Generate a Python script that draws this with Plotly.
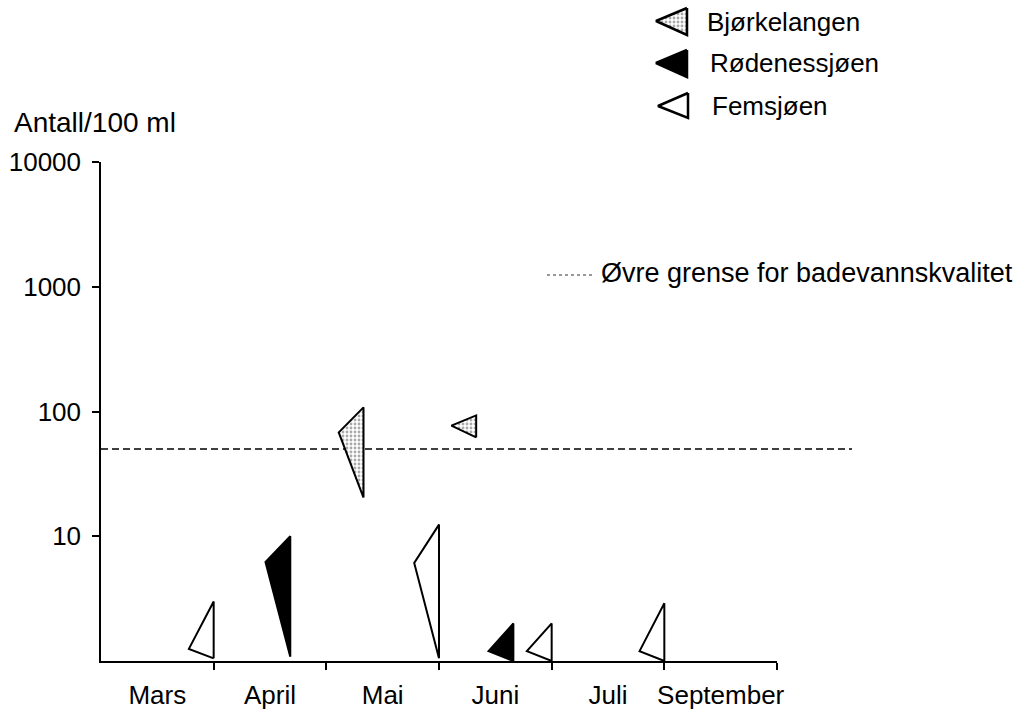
import plotly.graph_objects as go

# ---------------- data ----------------
months = ["Mars", "April", "Mai", "Juni", "Juli", "September"]
month_ticks = [1, 2, 3, 4, 5, 6]              # month boundaries (tick marks)
label_pos = [0.5, 1.5, 2.5, 3.5, 4.5, 5.5]    # month label centres
ytick_vals = [10, 100, 1000, 10000]
ytick_text = ["10", "100", "1000", "10000"]

# Each triangle: vertical edge at x (month units), spanning min..max, tip at mid value
fems_x = [1.0, 3.0, 4.0, 5.0]
fems_min = [1.05, 1.05, 1.0, 1.0]
fems_mid = [1.25, 6.1, 1.2, 1.2]
fems_max = [3.0, 12.4, 2.0, 2.9]

rod_x = [1.68, 3.66]
rod_min = [1.08, 1.0]
rod_mid = [6.2, 1.2]
rod_max = [10.0, 2.0]

bjo_x = [2.33, 3.33]
bjo_min = [20.4, 62.0]
bjo_mid = [68.0, 77.0]
bjo_max = [108.0, 93.0]

threshold = 50
threshold_label = "Øvre grense for badevannskvalitet"
lakes = ["Bjørkelangen", "Rødenessjøen", "Femsjøen"]

# ---------------- layout geometry ----------------
W, H = 1026, 715
L, R_AX, R_DASH, T, B = 101, 777, 852, 162, 661
TIP_W = 0.22  # horizontal depth of triangle tip (month units)
X_END = 6 * (R_DASH - L) / (R_AX - L)
FONT = "Liberation Sans, Arial, sans-serif"
FS = 26


def tri_path(xs, mins, mids, maxs):
    px, py = [], []
    for x, a, m, b in zip(xs, mins, mids, maxs):
        px += [x, x, x - TIP_W, x, None]
        py += [a, b, m, a, None]
    return px, py


fig = go.Figure()

# threshold dashed line
fig.add_trace(go.Scatter(x=[0, X_END], y=[threshold, threshold], mode="lines",
                         line=dict(color="black", width=1.4, dash="7px,4px"),
                         xaxis="x", yaxis="y", hoverinfo="skip", showlegend=False))

stipple = dict(shape=".", size=4, solidity=0.4, fgcolor="#555", bgcolor="white")

px, py = tri_path(bjo_x, bjo_min, bjo_mid, bjo_max)
fig.add_trace(go.Scatter(x=px, y=py, mode="lines", fill="toself", fillcolor="white",
                         fillpattern=stipple, line=dict(color="black", width=2),
                         name=lakes[0], showlegend=False, xaxis="x", yaxis="y"))
px, py = tri_path(rod_x, rod_min, rod_mid, rod_max)
fig.add_trace(go.Scatter(x=px, y=py, mode="lines", fill="toself", fillcolor="black",
                         line=dict(color="black", width=2),
                         name=lakes[1], showlegend=False, xaxis="x", yaxis="y"))
px, py = tri_path(fems_x, fems_min, fems_mid, fems_max)
fig.add_trace(go.Scatter(x=px, y=py, mode="lines", fill="toself", fillcolor="white",
                         line=dict(color="black", width=2),
                         name=lakes[2], showlegend=False, xaxis="x", yaxis="y"))

# empty trace so the display x-axis (x2) is drawn
fig.add_trace(go.Scatter(x=[None], y=[None], xaxis="x2", yaxis="y", showlegend=False,
                         hoverinfo="skip"))

# ---------------- manual legend (pixel-coordinate overlay axis) ----------------
leg_tris = [((656, 21), 687, 8, 35), ((656, 63), 687, 50, 77), ((658, 106), 688, 93, 118)]
leg_fill = ["white", "black", "white"]
leg_text_x = [705, 708, 710]
for i, ((tx, ty), ex, y0, y1) in enumerate(leg_tris):
    kw = dict(fillpattern=stipple) if i == 0 else {}
    fig.add_trace(go.Scatter(x=[ex, ex, tx, ex], y=[y0, y1, ty, y0], mode="lines",
                             fill="toself", fillcolor=leg_fill[i],
                             line=dict(color="black", width=2.5),
                             xaxis="x3", yaxis="y3", hoverinfo="skip", showlegend=False, **kw))
    fig.add_annotation(x=leg_text_x[i] / W, y=1 - ((y0 + y1) / 2) / H, xref="paper", yref="paper",
                       text=lakes[i], showarrow=False, xanchor="left", yanchor="middle",
                       font=dict(family=FONT, size=FS, color="black"))

fig.add_trace(go.Scatter(x=[547, 593], y=[275, 275], mode="lines",
                         line=dict(color="#333", width=1, dash="dot"),
                         xaxis="x3", yaxis="y3", hoverinfo="skip", showlegend=False))
fig.add_annotation(x=599 / W, y=1 - 273 / H, xref="paper", yref="paper",
                   text=threshold_label, showarrow=False, xanchor="left", yanchor="middle",
                   font=dict(family=FONT, size=27, color="black"))

fig.add_annotation(x=12 / W, y=1 - 122 / H, xref="paper", yref="paper",
                   text="Antall/100 ml", showarrow=False, xanchor="left", yanchor="middle",
                   font=dict(family=FONT, size=28, color="black"))

fig.update_layout(
    width=W, height=H,
    margin=dict(l=0, r=0, t=0, b=0, pad=0, autoexpand=False),
    paper_bgcolor="white", plot_bgcolor="rgba(0,0,0,0)",
    showlegend=False,
    font=dict(family=FONT, size=FS, color="black"),
    xaxis=dict(domain=[L / W, R_DASH / W], range=[0, X_END], anchor="y",
               showline=False, showgrid=False, zeroline=False, automargin=False,
               tickmode="array", tickvals=label_pos, ticktext=months,
               ticks="", ticklabelstandoff=16,
               tickfont=dict(family=FONT, size=FS, color="black")),
    xaxis2=dict(domain=[L / W, R_AX / W], range=[0, 6], anchor="y",
                showline=True, linecolor="black", linewidth=1.5, automargin=False,
                showgrid=False, zeroline=False, showticklabels=False,
                tickmode="array", tickvals=month_ticks, ticks="outside",
                ticklen=7, tickwidth=1.5, tickcolor="black"),
    yaxis=dict(domain=[(H - B) / H, (H - T) / H], type="log", range=[0, 4], anchor="x",
               showline=True, linecolor="black", linewidth=1.5, automargin=False,
               showgrid=False, zeroline=False,
               tickmode="array", tickvals=ytick_vals, ticktext=ytick_text,
               ticks="outside", ticklen=7, tickwidth=1.5, tickcolor="black",
               ticklabelstandoff=6,
               tickfont=dict(family=FONT, size=FS, color="black")),
    xaxis3=dict(domain=[0, 1], range=[0, W], visible=False, anchor="y3", automargin=False),
    yaxis3=dict(domain=[0, 1], range=[H, 0], visible=False, anchor="x3", automargin=False),
)

fig.write_html("out.html", config={"displayModeBar": False},
               post_script="document.body.style.margin='0';document.body.style.overflow='hidden';")
